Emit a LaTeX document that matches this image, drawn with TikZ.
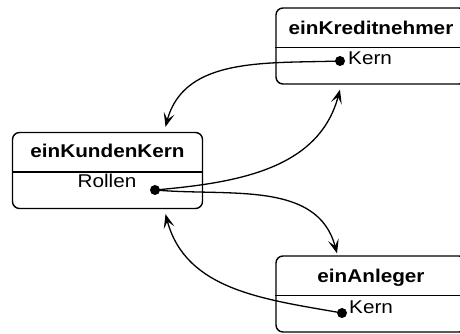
\documentclass[tikz,border=0pt]{standalone}
\usepackage{fontspec}
\setmainfont{Liberation Sans}[FakeStretch=1.12]
\usetikzlibrary{arrows.meta}

\tikzset{
  objekt/.style={draw, rounded corners=7pt, line width=1.4pt, minimum width=190pt, minimum height=76pt, inner sep=0pt},
  titel/.style={font=\fontsize{18.5}{22}\selectfont\bfseries, anchor=base, inner sep=0pt},
  attr/.style={font=\fontsize{18.5}{22}\selectfont, inner sep=0pt},
  punkt/.style={circle, fill, inner sep=0pt, minimum size=10pt},
  verweis/.style={line width=1.3pt, -{Stealth[length=14pt, width=11pt, inset=6.5pt]}}
}

\begin{document}
\begin{tikzpicture}[x=1pt, y=1pt]
\clip (0,0) rectangle (460,334);

\node [objekt] (kredit) at (371,288) {};
\node [objekt] (kunden) at (107.5,163.5) {};
\node [objekt] (anleger) at (371,40) {};

\foreach \o in {kredit, kunden, anleger}
  \draw [line width=1.4pt] ([yshift=-1.5pt]\o.west) -- ([yshift=-1.5pt]\o.east);

\node [titel] (kredit-titel) at (371,299) {einKreditnehmer};
\node [titel] (kunden-titel) at (107.5,176) {einKundenKern};
\node [titel] (anleger-titel) at (371,51) {einAnleger};

\node [attr, anchor=base west] (kredit-attr) at (348,269) {Kern};
\node [attr, anchor=base] (kunden-attr) at (107,146) {Rollen};
\node [attr, anchor=base west] (anleger-attr) at (349,20) {Kern};

\node [punkt] (kredit-kern) at (340,273) {};
\node [punkt] (rollen) at (155,144) {};
\node [punkt] (anleger-kern) at (342,21) {};

\draw [verweis] (kredit-kern.center) to[out=182, in=75] ([xshift=58pt, yshift=5pt]kunden.north);
\draw [verweis] (rollen.center) to[out=5, in=-105] ([xshift=-31pt, yshift=-5pt]kredit.south);
\draw [verweis] (rollen.center) to[out=-5, in=105] ([xshift=-34pt, yshift=2pt]anleger.north);
\draw [verweis] (anleger-kern.center) to[out=170, in=-75] ([xshift=58pt, yshift=-5pt]kunden.south);
\end{tikzpicture}
\end{document}
